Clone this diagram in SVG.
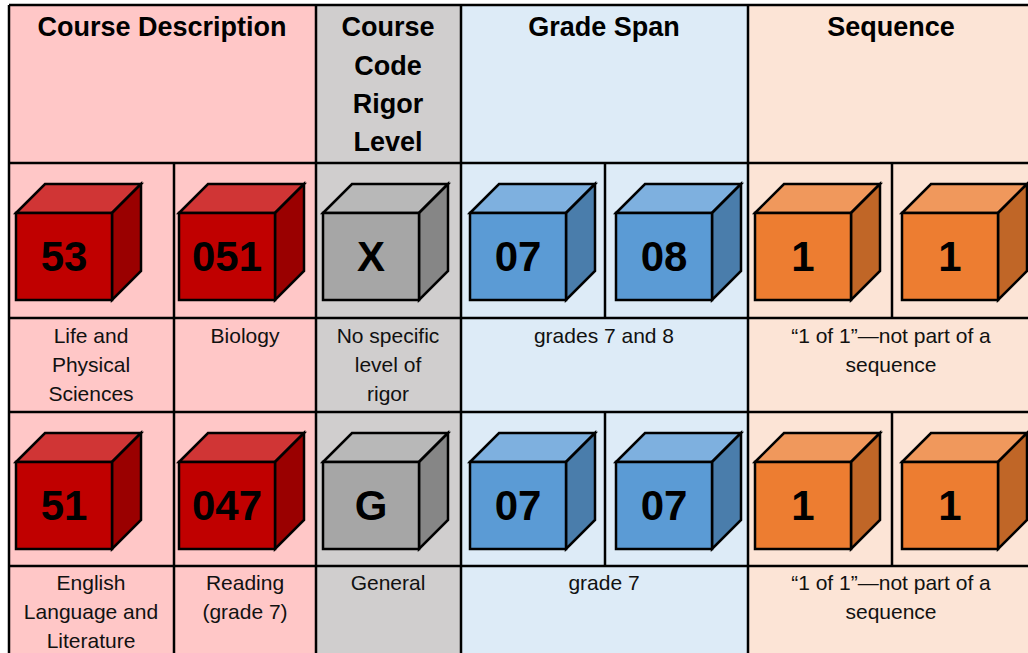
<svg xmlns="http://www.w3.org/2000/svg" width="1028" height="653" viewBox="0 0 1028 653">
<defs>
<style>
.bg{stroke:none}
.grid{stroke:#000;stroke-width:2.5;fill:none}
.hdr{font-family:"Liberation Sans",Arial,sans-serif;font-weight:bold;font-size:27px;fill:#000;text-anchor:middle}
.txt{font-family:"Liberation Sans",Arial,sans-serif;font-size:21px;fill:#111;text-anchor:middle}
.num{font-family:"Liberation Sans",Arial,sans-serif;font-weight:bold;font-size:42px;fill:#000;text-anchor:middle}
.cube polygon,.cube rect{stroke:#000;stroke-width:2.5;stroke-linejoin:miter}
.red .f{fill:#C00000}.red .t{fill:#D03535}.red .s{fill:#9A0000}
.gray .f{fill:#A6A6A6}.gray .t{fill:#B8B8B8}.gray .s{fill:#868686}
.blue .f{fill:#5B9BD5}.blue .t{fill:#7EB0DF}.blue .s{fill:#4A7DAB}
.orange .f{fill:#ED7D31}.orange .t{fill:#F0985C}.orange .s{fill:#C06627}
</style>
</defs>

<g id="backgrounds">
<rect class="bg" x="9" y="5" width="307" height="648" fill="#FFC7C7"/>
<rect class="bg" x="316" y="5" width="145" height="648" fill="#D0CECE"/>
<rect class="bg" x="461" y="5" width="287" height="648" fill="#DDEBF7"/>
<rect class="bg" x="748" y="5" width="280" height="648" fill="#FCE4D6"/>
</g>

<g id="gridlines" class="grid">
<line x1="9" y1="5" x2="1028" y2="5"/>
<line x1="9" y1="163" x2="1028" y2="163"/>
<line x1="9" y1="318" x2="1028" y2="318"/>
<line x1="9" y1="412" x2="1028" y2="412"/>
<line x1="9" y1="566" x2="1028" y2="566"/>
<line x1="9" y1="5" x2="9" y2="653"/>
<line x1="316" y1="5" x2="316" y2="653"/>
<line x1="461" y1="5" x2="461" y2="653"/>
<line x1="748" y1="5" x2="748" y2="653"/>
<line x1="174" y1="163" x2="174" y2="653"/>
<line x1="605" y1="163" x2="605" y2="318"/>
<line x1="605" y1="412" x2="605" y2="566"/>
<line x1="892" y1="163" x2="892" y2="318"/>
<line x1="892" y1="412" x2="892" y2="566"/>
</g>

<g id="headers">
<text class="hdr" x="162" y="36">Course Description</text>
<text class="hdr" x="388" y="36">Course</text>
<text class="hdr" x="388" y="75">Code</text>
<text class="hdr" x="388" y="113">Rigor</text>
<text class="hdr" x="388" y="151">Level</text>
<text class="hdr" x="604" y="36">Grade Span</text>
<text class="hdr" x="891" y="36">Sequence</text>
</g>

<g id="cube-53" class="cube red" transform="translate(16,213)"><polygon class="t" points="0,0 29,-29 125,-29 96,0"/><polygon class="s" points="96,0 125,-29 125,58 96,87"/><rect class="f" x="0" y="0" width="96" height="87"/><text class="num" x="48" y="58">53</text></g>
<g id="cube-051" class="cube red" transform="translate(179,213)"><polygon class="t" points="0,0 29,-29 125,-29 96,0"/><polygon class="s" points="96,0 125,-29 125,58 96,87"/><rect class="f" x="0" y="0" width="96" height="87"/><text class="num" x="48" y="58">051</text></g>
<g id="cube-X" class="cube gray" transform="translate(323,213)"><polygon class="t" points="0,0 29,-29 125,-29 96,0"/><polygon class="s" points="96,0 125,-29 125,58 96,87"/><rect class="f" x="0" y="0" width="96" height="87"/><text class="num" x="48" y="58">X</text></g>
<g id="cube-07a" class="cube blue" transform="translate(470,213)"><polygon class="t" points="0,0 29,-29 125,-29 96,0"/><polygon class="s" points="96,0 125,-29 125,58 96,87"/><rect class="f" x="0" y="0" width="96" height="87"/><text class="num" x="48" y="58">07</text></g>
<g id="cube-08" class="cube blue" transform="translate(616,213)"><polygon class="t" points="0,0 29,-29 125,-29 96,0"/><polygon class="s" points="96,0 125,-29 125,58 96,87"/><rect class="f" x="0" y="0" width="96" height="87"/><text class="num" x="48" y="58">08</text></g>
<g id="cube-1a" class="cube orange" transform="translate(755,213)"><polygon class="t" points="0,0 29,-29 125,-29 96,0"/><polygon class="s" points="96,0 125,-29 125,58 96,87"/><rect class="f" x="0" y="0" width="96" height="87"/><text class="num" x="48" y="58">1</text></g>
<g id="cube-1b" class="cube orange" transform="translate(902,213)"><polygon class="t" points="0,0 29,-29 125,-29 96,0"/><polygon class="s" points="96,0 125,-29 125,58 96,87"/><rect class="f" x="0" y="0" width="96" height="87"/><text class="num" x="48" y="58">1</text></g>

<g id="cube-51" class="cube red" transform="translate(16,462)"><polygon class="t" points="0,0 29,-29 125,-29 96,0"/><polygon class="s" points="96,0 125,-29 125,58 96,87"/><rect class="f" x="0" y="0" width="96" height="87"/><text class="num" x="48" y="58">51</text></g>
<g id="cube-047" class="cube red" transform="translate(179,462)"><polygon class="t" points="0,0 29,-29 125,-29 96,0"/><polygon class="s" points="96,0 125,-29 125,58 96,87"/><rect class="f" x="0" y="0" width="96" height="87"/><text class="num" x="48" y="58">047</text></g>
<g id="cube-G" class="cube gray" transform="translate(323,462)"><polygon class="t" points="0,0 29,-29 125,-29 96,0"/><polygon class="s" points="96,0 125,-29 125,58 96,87"/><rect class="f" x="0" y="0" width="96" height="87"/><text class="num" x="48" y="58">G</text></g>
<g id="cube-07b" class="cube blue" transform="translate(470,462)"><polygon class="t" points="0,0 29,-29 125,-29 96,0"/><polygon class="s" points="96,0 125,-29 125,58 96,87"/><rect class="f" x="0" y="0" width="96" height="87"/><text class="num" x="48" y="58">07</text></g>
<g id="cube-07c" class="cube blue" transform="translate(616,462)"><polygon class="t" points="0,0 29,-29 125,-29 96,0"/><polygon class="s" points="96,0 125,-29 125,58 96,87"/><rect class="f" x="0" y="0" width="96" height="87"/><text class="num" x="48" y="58">07</text></g>
<g id="cube-1c" class="cube orange" transform="translate(755,462)"><polygon class="t" points="0,0 29,-29 125,-29 96,0"/><polygon class="s" points="96,0 125,-29 125,58 96,87"/><rect class="f" x="0" y="0" width="96" height="87"/><text class="num" x="48" y="58">1</text></g>
<g id="cube-1d" class="cube orange" transform="translate(902,462)"><polygon class="t" points="0,0 29,-29 125,-29 96,0"/><polygon class="s" points="96,0 125,-29 125,58 96,87"/><rect class="f" x="0" y="0" width="96" height="87"/><text class="num" x="48" y="58">1</text></g>

<g id="labels-row1">
<text class="txt" x="91" y="343">Life and</text>
<text class="txt" x="91" y="372">Physical</text>
<text class="txt" x="91" y="401">Sciences</text>
<text class="txt" x="245" y="343">Biology</text>
<text class="txt" x="388" y="343">No specific</text>
<text class="txt" x="388" y="372">level of</text>
<text class="txt" x="388" y="401">rigor</text>
<text class="txt" x="604" y="343">grades 7 and 8</text>
<text class="txt" x="891" y="343">“1 of 1”—not part of a</text>
<text class="txt" x="891" y="372">sequence</text>
</g>

<g id="labels-row2">
<text class="txt" x="91" y="590">English</text>
<text class="txt" x="91" y="619">Language and</text>
<text class="txt" x="91" y="648">Literature</text>
<text class="txt" x="245" y="590">Reading</text>
<text class="txt" x="245" y="619">(grade 7)</text>
<text class="txt" x="388" y="590">General</text>
<text class="txt" x="604" y="590">grade 7</text>
<text class="txt" x="891" y="590">“1 of 1”—not part of a</text>
<text class="txt" x="891" y="619">sequence</text>
</g>
</svg>
